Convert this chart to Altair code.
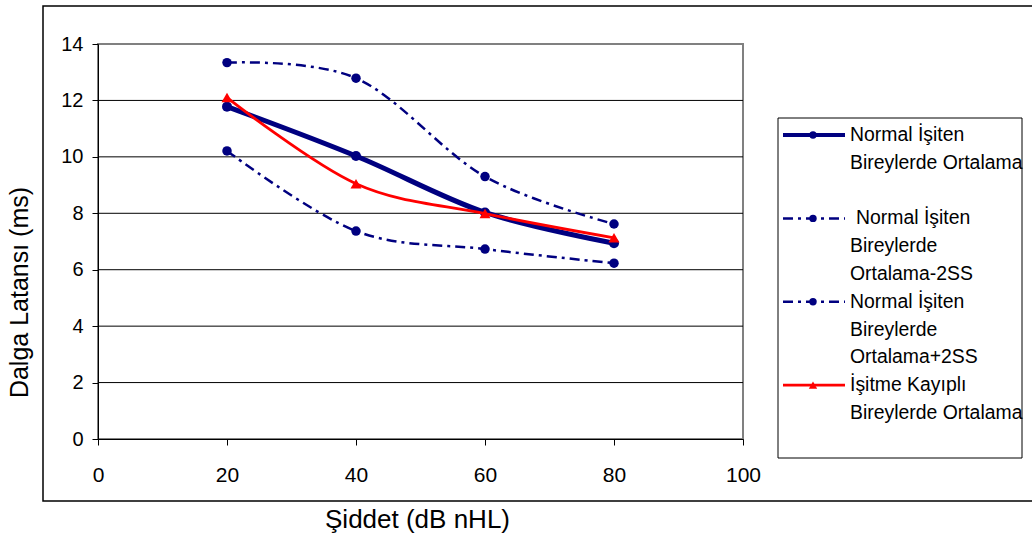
import altair as alt
import pandas as pd

# ---- data ----
siddet = [20, 40, 60, 80]
ortalama = [11.78, 10.03, 8.03, 6.94]
ortalama_eksi_2ss = [10.21, 7.37, 6.73, 6.23]
ortalama_arti_2ss = [13.34, 12.79, 9.30, 7.62]
isitme_kayipli = [12.10, 9.05, 7.99, 7.13]

x_ticks = [0, 20, 40, 60, 80, 100]
y_ticks = [0, 2, 4, 6, 8, 10, 12, 14]
grid_values = [2, 4, 6, 8, 10, 12]

series_names = [
    "Normal İşiten Bireylerde Ortalama",
    "Normal İşiten Bireylerde Ortalama-2SS",
    "Normal İşiten Bireylerde Ortalama+2SS",
    "İşitme Kayıplı Bireylerde Ortalama",
]
series_values = [ortalama, ortalama_eksi_2ss, ortalama_arti_2ss, isitme_kayipli]

legend_lines = [
    ["Normal İşiten", "Bireylerde Ortalama"],
    [" Normal İşiten", "Bireylerde", "Ortalama-2SS"],
    ["Normal İşiten", "Bireylerde", "Ortalama+2SS"],
    ["İşitme Kayıplı", "Bireylerde Ortalama"],
]
legend_start_rows = [0, 3, 6, 9]

FONT = "Liberation Sans"
NAVY = "#000080"
RED = "#FF0000"
DASH = [10, 5, 3, 5]

styles = [
    dict(color=NAVY, width=5, dash=None, shape="circle", size=100, lw=4, lsize=55),
    dict(color=NAVY, width=2.5, dash=DASH, shape="circle", size=90, lw=2.5, lsize=55),
    dict(color=NAVY, width=2.5, dash=DASH, shape="circle", size=90, lw=2.5, lsize=55),
    dict(color=RED, width=2.8, dash=None, shape="triangle-up", size=120, lw=2.8, lsize=70),
]

# ---- scales / axes ----
xscale = alt.Scale(domain=[0, 100], nice=False, zero=False)
yscale = alt.Scale(domain=[0, 14], nice=False)

xaxis = alt.Axis(
    values=x_ticks, grid=False, tickSize=6, tickColor="black", domainColor="black",
    labelFont=FONT, labelFontSize=21, labelColor="black", labelBaseline="middle",
    labelPadding=30, labelFlush=False, labelOverlap=False,
    title="Şiddet (dB nHL)", titleFont=FONT, titleFontSize=26, titleFontWeight="normal",
    titleColor="black", titleX=319, titleY=88, titleAlign="center",
    titleBaseline="alphabetic",
)
yaxis = alt.Axis(
    values=y_ticks, grid=False, tickSize=6, tickColor="black", domainColor="black",
    labelFont=FONT, labelFontSize=20, labelColor="black", labelPadding=9,
    labelFlush=False, labelOverlap=False,
    title="Dalga Latansı (ms)", titleFont=FONT, titleFontSize=25, titleFontWeight="normal",
    titleColor="black", titleAngle=270, titleX=-71, titleY=248, titleAlign="center",
    titleBaseline="alphabetic",
)

# ---- outer chart-area box ----
box = alt.Chart(pd.DataFrame({"k": [0]})).mark_rect(
    fillOpacity=0, stroke="black", strokeWidth=1.5
).encode(x=alt.value(-55), x2=alt.value(980), y=alt.value(-38), y2=alt.value(457))

# ---- gridlines ----
grid = alt.Chart(pd.DataFrame({"v": grid_values})).mark_rule(
    color="black", strokeWidth=1
).encode(y=alt.Y("v:Q", scale=yscale, axis=yaxis))

data_layers = [grid]
for name, vals, st in zip(series_names, series_values, styles):
    df = pd.DataFrame({"siddet": siddet, "deger": vals, "seri": name})
    base = alt.Chart(df).encode(
        x=alt.X("siddet:Q", scale=xscale, axis=xaxis),
        y=alt.Y("deger:Q", scale=yscale, axis=yaxis),
    )
    line_kw = dict(interpolate="cardinal", color=st["color"], strokeWidth=st["width"])
    if st["dash"]:
        line_kw["strokeDash"] = st["dash"]
    data_layers.append(base.mark_line(**line_kw))
    data_layers.append(
        base.mark_point(shape=st["shape"], filled=True, size=st["size"],
                        color=st["color"], opacity=1)
    )

data_chart = alt.layer(*data_layers)

# ---- legend (own scales, positioned to the right of the plot) ----
lx = alt.Scale(domain=[0, 244], range=[680, 924])
ly = alt.Scale(domain=[0, 340], range=[74, 414])
ROW0, ROWH = 17, 27.8

legend_box = alt.Chart(pd.DataFrame({"x0": [0], "x1": [244], "y0": [0], "y1": [340]})).mark_rect(
    fill="white", stroke="black", strokeWidth=1
).encode(
    x=alt.X("x0:Q", scale=lx, axis=None), x2="x1:Q",
    y=alt.Y("y0:Q", scale=ly, axis=None), y2="y1:Q",
)

legend_layers = [legend_box]
text_rows = []
for lines, r0, st in zip(legend_lines, legend_start_rows, styles):
    for i, t in enumerate(lines):
        indent = 6 if t.startswith(" ") else 0
        text_rows.append({"lx": 72 + indent, "ly": ROW0 + ROWH * (r0 + i), "t": t.strip()})
    yc = ROW0 + ROWH * r0
    sym = alt.Chart(pd.DataFrame({"a": [5], "b": [67], "m": [35], "y": [yc]}))
    rule_kw = dict(color=st["color"], strokeWidth=st["lw"])
    if st["dash"]:
        rule_kw["strokeDash"] = DASH
    legend_layers.append(
        sym.mark_rule(**rule_kw).encode(
            x=alt.X("a:Q", scale=lx, axis=None), x2="b:Q",
            y=alt.Y("y:Q", scale=ly, axis=None),
        )
    )
    legend_layers.append(
        sym.mark_point(shape=st["shape"], filled=True, size=st["lsize"],
                       color=st["color"], opacity=1).encode(
            x=alt.X("m:Q", scale=lx, axis=None),
            y=alt.Y("y:Q", scale=ly, axis=None),
        )
    )

legend_text = alt.Chart(pd.DataFrame(text_rows)).mark_text(
    align="left", baseline="middle", font=FONT, fontSize=19.4, color="black"
).encode(
    x=alt.X("lx:Q", scale=lx, axis=None),
    y=alt.Y("ly:Q", scale=ly, axis=None),
    text="t:N",
)
legend_layers.append(legend_text)
legend_chart = alt.layer(*legend_layers)

chart = alt.layer(box, data_chart, legend_chart).resolve_scale(
    x="independent", y="independent"
).properties(
    width=645, height=395,
    autosize=alt.AutoSizeParams(type="none"),
    padding={"left": 98, "top": 44, "right": 289, "bottom": 100},
    background="white",
).configure_view(stroke="#808080", strokeWidth=2)

chart.save("out.html", embed_options={"renderer": "svg", "actions": False})
